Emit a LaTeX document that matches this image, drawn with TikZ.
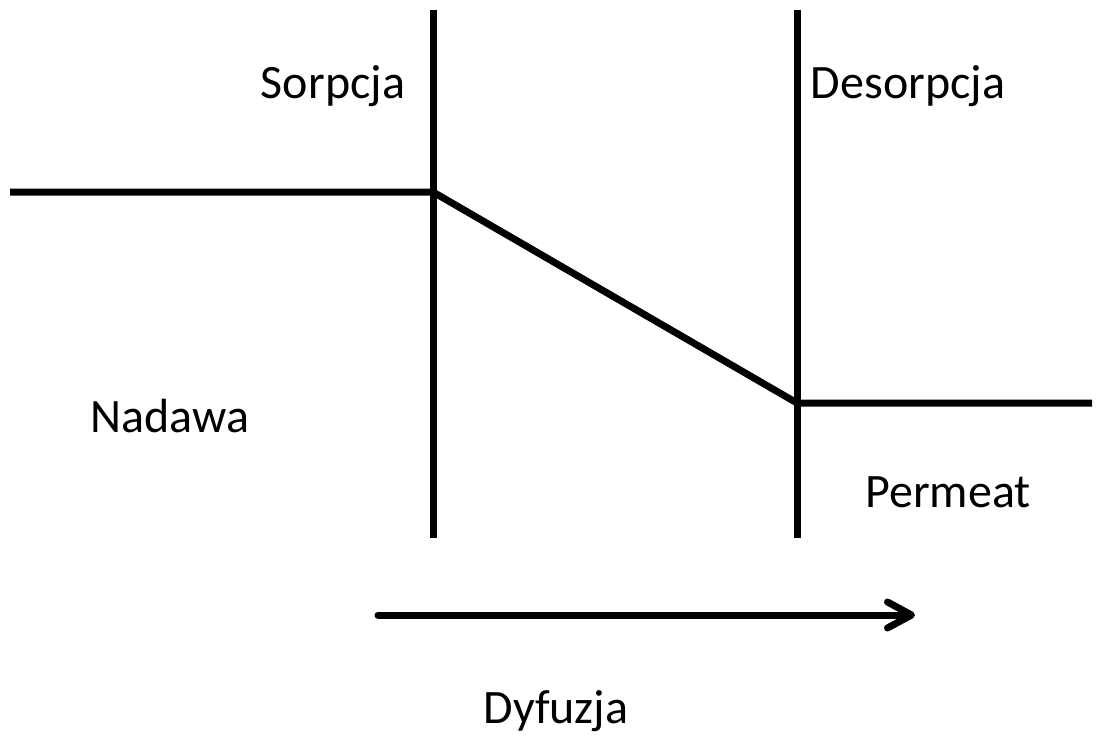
\documentclass[tikz,border=0pt]{standalone}
\usepackage{fontspec}
\setmainfont{Carlito}
\usetikzlibrary{arrows.meta}
\begin{document}
\begin{tikzpicture}[x=1pt,y=-1pt,
  wall/.style={line width=7pt},
  profile/.style={line width=7pt, line join=round},
  label/.style={font=\fontsize{48}{58}\selectfont, inner sep=0pt},
  flow/.style={line width=7pt, line cap=round,
    -{Straight Barb[length=24pt, width=26pt, round]}}]
  \useasboundingbox (0,0) rectangle (1103,737);
  % membrane boundaries
  \coordinate (lt) at (433,10);  \coordinate (lb) at (433,538);
  \coordinate (rt) at (797,10);  \coordinate (rb) at (797,538);
  \draw[wall] (lt) -- (lb);
  \draw[wall] (rt) -- (rb);
  % concentration profile
  \coordinate (c0) at (10,192);
  \coordinate (c1) at (433,192);
  \coordinate (c2) at (797,403);
  \coordinate (c3) at (1092,403);
  \draw[profile] (c0) -- (c1) -- (c2) -- (c3);
  % diffusion direction
  \coordinate (a0) at (378,615);
  \coordinate (a1) at (915,615);
  \draw[flow] (a0) -- (a1);
  % labels
  \node[label] (sorp) at (333,86) {Sorpcja};
  \node[label] (desorp) at (908,86) {Desorpcja};
  \node[label] (nad) at (170,416) {Nadawa};
  \node[label] (perm) at (948,492) {Permeat};
  \node[label, anchor=base] (dyf) at (556,723) {Dyfuzja};
\end{tikzpicture}
\end{document}
